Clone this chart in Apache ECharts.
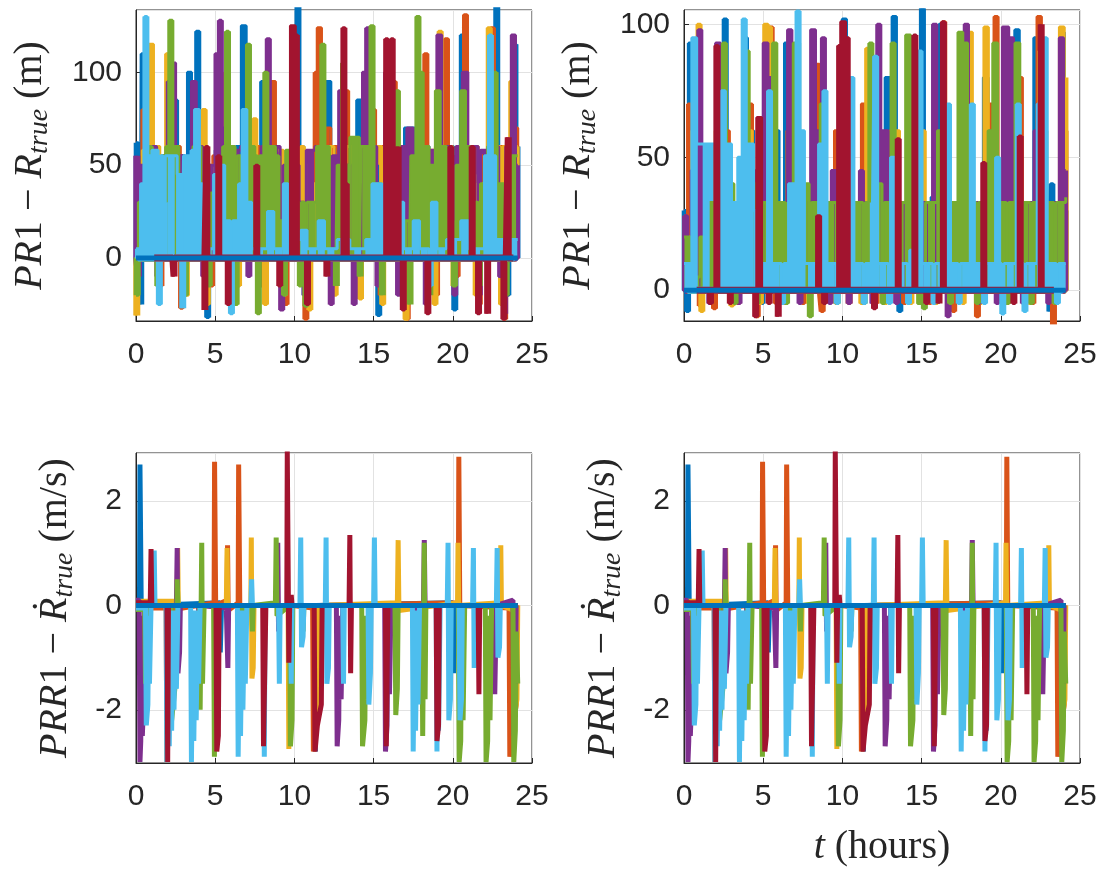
<!DOCTYPE html>
<html lang="en">
<head>
<meta charset="utf-8" />
<title>PR1 / PRR1 errors</title>
<script src="https://cdn.jsdelivr.net/npm/echarts@6/dist/echarts.min.js"></script>
<style>
  html, body { margin: 0; padding: 0; background: #fff; }
  #main { width: 1109px; height: 877px; }
</style>
</head>
<body>
<div id="main"></div>
<script type="text/javascript">
// MATLAB default line colours, drawn in this order
var colors = ['#0072BD', '#D95319', '#EDB120', '#7E2F8E', '#77AC30', '#4DBEEE', '#A2142F'];
var xTicks = [0, 25, 5];          // min, max, step (hours)
var yRangeTL = [-33.9, 133.5, 50];
var yRangeTR = [-11.6, 105.4, 50];
var yRangeB  = [-3.02, 2.92, 2];
var zeroLine = [[0, 0], [24.1, 0]];

// ---- top left: PR1 - R_true (m); [t, value], value held until the next t ----
var tlBlue = [[0,62],[0.15,40],[0.25,-25],[0.35,110],[0.55,60],[0.7,95],[0.85,5],[1.1,58],[1.4,20],[1.6,55],[2.4,85],[2.6,55],[3.1,20],[3.25,100],[3.5,60],[3.8,122],[4.0,50],[4.45,-32],[4.6,20],[5.0,58],[5.8,15],[6.3,60],[6.65,125],[6.95,60],[7.6,5],[7.9,95],[8.1,58],[8.6,40],[9.2,10],[9.6,55],[10.15,135],[10.3,60],[10.6,-20],[10.75,40],[11.5,55],[12.0,95],[12.3,60],[13.3,50],[13.8,-20],[13.95,85],[14.2,50],[15.25,-31],[15.4,40],[15.9,110],[16.1,40],[16.8,-10],[16.95,70],[17.6,50],[18.1,60],[18.5,-15],[18.65,40],[19.6,60],[20.05,-28],[20.2,20],[20.5,120],[20.7,30],[21.5,-10],[21.65,50],[22.3,90],[22.7,135],[22.85,40],[23.4,-20],[23.55,60],[23.85,115],[24.0,60],[24.1,60]];
var tlOrange = [[0,50],[0.4,80],[0.6,55],[0.85,100],[1.0,40],[1.5,-15],[1.65,30],[2.2,90],[2.4,60],[2.8,-27],[2.95,20],[3.6,58],[4.0,70],[4.3,30],[4.7,-15],[4.85,55],[5.5,85],[5.8,30],[6.2,-20],[6.35,45],[7.0,60],[7.8,-15],[7.95,60],[8.5,95],[8.8,40],[9.4,-25],[9.55,45],[10.4,55],[10.65,-33],[10.8,30],[11.3,100],[11.45,124],[11.7,70],[12.3,-15],[12.45,60],[13.2,90],[13.4,40],[14.0,-20],[14.15,60],[14.9,80],[15.1,40],[15.4,-20],[15.55,60],[16.2,95],[16.4,20],[17.05,-33],[17.2,40],[18.2,110],[18.4,30],[18.9,-20],[19.05,60],[19.5,118],[19.7,50],[20.2,-10],[20.35,55],[20.7,131],[20.9,60],[21.6,-25],[21.75,55],[22.4,124],[22.6,60],[23.2,-33],[23.35,10],[23.8,70],[24.1,30]];
var tlYellow = [[0,-31],[0.1,20],[0.4,58],[0.8,115],[1.1,60],[1.5,10],[1.9,110],[2.1,60],[2.6,30],[3.0,-20],[3.3,40],[3.8,60],[4.2,80],[4.4,-25],[4.6,50],[5.2,58],[5.6,100],[5.8,40],[6.4,-15],[6.55,40],[7.1,58],[7.4,75],[7.6,20],[8.1,-25],[8.25,58],[9.3,-20],[9.45,40],[10.4,60],[10.6,50],[10.9,-28],[11.05,40],[11.8,60],[12.5,-20],[12.65,45],[13.3,60],[14.1,-22],[14.25,60],[15.5,-25],[15.65,50],[16.5,60],[16.95,-33],[17.15,40],[17.8,58],[18.8,-25],[18.95,60],[19.1,122],[19.3,60],[20.0,-15],[20.15,45],[21.4,-20],[21.55,40],[22.2,124],[22.4,60],[23.0,-25],[23.15,60],[23.6,95],[23.9,60],[24.1,60]];
var tlPurple = [[0,55],[0.1,-10],[0.2,50],[0.5,30],[1.0,60],[1.3,-10],[1.45,40],[2.0,95],[2.2,105],[2.5,55],[2.95,-15],[3.1,50],[3.5,95],[3.8,60],[4.2,-10],[4.35,50],[5.0,110],[5.25,128],[5.4,70],[5.9,-20],[6.05,58],[6.6,60],[7.05,-10],[7.2,50],[7.9,60],[8.25,118],[8.45,60],[9.1,-28],[9.3,50],[10.3,30],[10.6,-20],[10.75,58],[11.3,60],[11.9,55],[12.25,-25],[12.4,55],[12.8,90],[13.1,50],[13.7,-25],[13.85,20],[14.3,100],[14.55,124],[14.7,60],[15.2,-15],[15.35,30],[15.7,100],[16.0,55],[16.5,-20],[16.65,60],[17.1,70],[17.5,40],[18.25,-25],[18.4,58],[19.0,120],[19.3,60],[19.8,55],[20.05,-20],[20.2,60],[20.6,100],[20.95,60],[21.6,-20],[21.75,58],[22.5,60],[22.9,-10],[23.2,-30],[23.35,60],[23.7,120],[23.95,50],[24.1,50]];
var tlGreen = [[0,-20],[0.15,30],[0.8,60],[1.0,5],[1.3,-15],[1.45,10],[1.65,55],[1.9,60],[2.1,128],[2.3,60],[2.7,30],[3.05,-20],[3.2,40],[3.6,60],[4.1,30],[4.55,-15],[4.7,35],[5.5,60],[5.7,122],[5.85,60],[6.25,-25],[6.4,55],[7.0,115],[7.2,60],[7.5,55],[7.65,-30],[7.8,55],[8.1,100],[8.3,60],[8.8,55],[9.0,20],[9.3,-20],[9.45,58],[9.8,30],[10.3,-15],[10.45,30],[10.65,-26],[10.8,30],[11.4,60],[11.7,115],[11.9,60],[12.2,5],[12.6,-15],[12.7,50],[13.0,105],[13.2,50],[13.5,65],[14.1,-10],[14.2,60],[14.8,125],[15.0,40],[15.5,-20],[15.6,10],[16.4,90],[16.6,20],[17.25,-25],[17.35,55],[17.7,130],[17.9,100],[18.1,60],[18.5,-20],[18.6,50],[18.9,90],[19.2,60],[19.6,20],[20.0,-15],[20.2,50],[20.5,90],[20.8,60],[21.1,30],[21.6,-15],[21.75,40],[22.2,60],[22.6,100],[22.75,40],[23.3,-20],[23.45,55],[24.1,55]];
var tlCyan = [[0,5],[0.3,40],[0.55,130],[0.7,55],[1.0,58],[1.4,-25],[1.55,55],[1.7,30],[1.85,55],[2.6,45],[2.9,-27],[3.0,55],[3.5,58],[3.7,80],[4.0,40],[4.2,5],[4.9,45],[5.2,50],[5.6,20],[5.95,-30],[6.1,20],[6.5,40],[6.7,80],[7.0,30],[7.3,5],[8.3,25],[8.7,5],[9.3,40],[9.6,10],[10.4,15],[10.8,5],[11.5,20],[11.9,5],[12.7,10],[13.5,5],[14.5,10],[14.9,40],[15.2,40],[15.5,5],[15.6,40],[16.0,20],[16.5,30],[16.9,5],[17.5,20],[17.9,5],[18.5,-15],[18.65,30],[19.0,5],[19.6,10],[20.5,20],[21.0,5],[22.0,55],[22.3,120],[22.45,55],[22.7,10],[23.2,5],[23.6,10],[24.1,10]];
var tlRed = [[0,0],[2.3,0],[2.35,-10],[2.45,0],[4.3,-28],[4.4,60],[4.55,0],[5.15,55],[5.3,0],[5.75,-25],[5.9,0],[7.55,50],[7.7,0],[9.0,-15],[9.15,0],[9.75,125],[10.05,120],[10.2,0],[10.75,-25],[10.9,0],[12.0,-10],[12.1,0],[13.05,124],[13.2,40],[13.35,0],[15.75,118],[15.9,0],[16.1,118],[16.25,0],[16.5,60],[16.6,0],[16.8,-28],[16.95,0],[18.35,-30],[18.5,0],[19.8,60],[19.95,0],[21.15,60],[21.3,0],[21.55,-30],[21.7,0],[22.15,-30],[22.25,0],[23.15,-33],[23.3,0],[23.45,65],[23.55,0],[24.1,0]];

// ---- top right: PR1 - R_true (m), second run ----
var trBlue = [[0,30],[0.15,-8],[0.3,93],[0.5,35],[1.0,10],[1.3,32],[1.7,5],[2.0,32],[2.5,102],[2.7,40],[3.05,-5],[3.2,33],[3.75,95],[4.0,60],[4.4,30],[4.85,-5],[5.0,33],[5.6,60],[6.0,10],[6.35,93],[6.6,40],[7.2,20],[7.5,33],[8.0,5],[8.4,70],[8.7,30],[9.2,5],[9.5,33],[10.0,102],[10.25,50],[10.7,10],[11.0,33],[11.5,60],[11.9,20],[12.2,33],[12.7,80],[13.15,103],[13.4,33],[13.55,-8],[13.7,33],[14.3,60],[14.7,80],[14.95,106],[15.15,20],[15.6,35],[15.9,-5],[16.0,50],[16.1,100],[16.35,30],[16.9,10],[17.2,33],[17.7,60],[18.1,10],[18.4,33],[18.9,80],[19.2,20],[19.5,33],[20.1,-5],[20.25,70],[20.9,98],[21.15,20],[21.6,33],[22.1,95],[22.35,20],[22.8,33],[23.05,-8],[23.15,40],[23.3,10],[23.75,97],[24.0,30],[24.1,30]];
var trOrange = [[0,28],[0.25,70],[0.45,33],[0.95,-6],[1.1,30],[1.85,-7],[2.0,33],[2.6,60],[2.85,30],[3.35,-5],[3.5,33],[4.1,70],[4.3,33],[4.55,-10],[4.7,33],[5.4,99],[5.6,40],[5.75,-5],[5.9,33],[6.5,60],[6.8,30],[7.45,-5],[7.6,33],[8.3,85],[8.55,33],[8.65,-8],[8.8,33],[9.5,60],[9.8,30],[10.35,-5],[10.5,33],[11.2,70],[11.5,30],[12.05,-5],[12.2,33],[13.0,60],[13.3,30],[13.85,-5],[14.0,33],[14.6,80],[14.9,30],[15.45,-5],[15.6,33],[16.3,101],[16.5,30],[16.95,-8],[17.1,33],[17.8,60],[18.1,33],[18.45,-10],[18.6,33],[19.3,70],[19.6,103],[19.8,30],[20.35,-5],[20.5,33],[21.1,80],[21.35,30],[21.95,-5],[22.1,33],[22.3,103],[22.55,30],[23.25,-13],[23.4,33],[24.0,60],[24.1,60]];
var trYellow = [[0,20],[0.5,60],[0.85,100],[1.05,-8],[1.2,33],[2.0,60],[2.2,92],[2.4,33],[2.95,-6],[3.1,33],[4.0,60],[4.3,33],[4.75,-5],[4.9,33],[5.05,100],[5.3,99],[5.5,33],[6.25,-5],[6.4,33],[7.0,60],[7.3,33],[7.85,-5],[8.0,33],[8.6,60],[8.8,33],[9.55,-5],[9.7,33],[10.3,60],[10.5,33],[11.15,-5],[11.3,33],[11.5,91],[11.7,60],[11.9,33],[12.65,-5],[12.8,33],[13.3,60],[13.6,33],[14.25,-5],[14.4,33],[15.0,60],[15.2,33],[15.85,-5],[16.0,33],[16.6,60],[16.8,33],[17.55,-5],[17.7,33],[17.9,97],[18.2,33],[18.65,-5],[18.8,33],[18.95,99],[19.2,60],[19.4,33],[20.15,-5],[20.3,33],[20.9,60],[21.1,33],[21.75,-5],[21.9,33],[22.4,90],[22.7,33],[23.35,-5],[23.5,33],[23.7,99],[24.0,80],[24.1,80]];
var trPurple = [[0,28],[0.2,15],[0.45,45],[0.9,98],[1.1,30],[1.55,-5],[1.7,33],[2.0,93],[2.3,90],[2.5,33],[3.4,-5],[3.55,33],[4.2,45],[4.5,30],[5.0,93],[5.3,80],[5.6,33],[6.15,-5],[6.3,33],[6.55,98],[6.8,60],[7.25,-5],[7.4,33],[8.0,98],[8.3,60],[8.7,95],[8.9,33],[9.15,-5],[9.3,45],[9.8,33],[10.35,-5],[10.5,33],[11.1,45],[11.3,33],[11.85,-5],[12.0,33],[12.2,100],[12.4,60],[12.9,33],[13.35,-5],[13.5,33],[14.1,95],[14.4,33],[14.95,-5],[15.1,33],[15.7,100],[15.95,40],[16.6,-10],[16.75,33],[17.4,50],[17.7,100],[17.95,33],[18.55,-5],[18.7,33],[19.3,60],[19.7,-5],[19.85,33],[20.1,99],[20.5,95],[20.8,33],[21.35,-5],[21.5,33],[22.1,60],[22.4,33],[22.95,-5],[23.1,33],[23.7,95],[23.95,45],[24.1,45]];
var trGreen = [[0,20],[0.5,5],[1.0,20],[1.5,33],[1.9,5],[2.2,55],[2.45,93],[2.65,40],[3.15,-5],[3.3,33],[3.85,90],[4.1,40],[4.55,-5],[4.7,20],[5.0,33],[5.6,93],[5.85,33],[6.4,-5],[6.55,33],[6.9,93],[7.3,40],[7.9,-10],[8.05,33],[8.6,70],[8.9,33],[9.6,-5],[9.75,33],[10.4,60],[10.7,33],[11.3,-5],[11.45,33],[11.7,93],[11.9,40],[12.5,-5],[12.65,33],[13.1,93],[13.3,33],[14.0,96],[14.3,40],[14.75,-5],[15.1,-7],[15.25,33],[16.0,60],[16.3,33],[16.75,-5],[16.9,33],[17.3,97],[17.6,93],[17.9,33],[18.45,-5],[18.6,33],[19.2,60],[19.5,93],[19.8,33],[20.35,-5],[20.5,33],[20.9,93],[21.2,33],[21.85,-5],[22.0,33],[22.6,60],[22.9,33],[23.35,-5],[23.5,33],[24.1,35]];
var trCyan = [[0,10],[0.5,95],[0.8,55],[2.0,50],[2.35,75],[2.6,55],[3.0,33],[3.4,50],[3.7,102],[3.9,55],[4.4,30],[4.8,10],[5.3,75],[5.5,10],[6.15,-5],[6.3,10],[6.6,40],[7.1,105],[7.3,60],[7.6,10],[8.5,55],[8.8,75],[9.0,10],[9.6,-5],[9.75,10],[10.5,80],[10.7,10],[11.3,-5],[11.45,10],[11.9,33],[12.0,88],[12.2,10],[12.9,-5],[13.05,50],[13.3,10],[14.1,-5],[14.25,15],[14.8,90],[15.0,10],[15.7,-5],[15.85,10],[16.6,70],[16.8,10],[17.3,-5],[17.45,10],[18.1,70],[18.3,10],[18.9,-5],[19.05,10],[19.7,50],[19.9,10],[20.05,-9],[20.2,10],[21.0,70],[21.2,10],[21.45,-8],[21.6,10],[22.3,70],[22.7,95],[22.9,10],[23.5,-5],[23.65,10],[24.1,10]];
var trRed = [[0,0],[1.6,-5],[1.75,0],[2.0,92],[2.15,0],[2.85,-5],[3.0,0],[4.45,-10],[4.6,65],[4.9,0],[5.3,-5],[5.45,0],[5.9,-10],[6.0,0],[8.4,28],[8.6,0],[8.8,-5],[8.95,0],[9.75,92],[9.9,101],[10.2,95],[10.4,0],[11.95,-7],[12.1,0],[13.45,57],[13.6,0],[14.5,96],[14.65,0],[15.25,-5],[15.4,0],[16.05,-5],[16.15,0],[16.3,101],[16.45,0],[18.85,48],[19.0,0],[20.75,-5],[20.9,0],[21.15,58],[21.3,0],[22.5,100],[22.6,0],[24.1,0]];

// ---- bottom row: PRR1 - Rdot_true (m/s); both bottom panels show the same curves ----
var bBlue = [[0,0.05],[0.22,0.05],[0.25,2.7],[0.3,2.7],[0.33,0],[0.6,-0.05],[0.62,-2.2],[0.7,-1.6],[0.75,0],[5.3,0.05],[5.32,-0.9],[5.4,0],[11.3,0],[11.32,-2.8],[11.36,0],[20.0,0.05],[20.05,-1.3],[20.1,0],[24.1,0]];
var bOrange = [[0,-0.05],[1.9,-0.05],[1.95,-3.0],[2.0,-0.1],[4.93,0.05],[4.96,2.75],[5.0,2.75],[5.03,0],[5.75,0.1],[5.78,1.15],[5.82,-0.1],[6.45,0.05],[6.48,2.7],[6.53,2.7],[6.56,-0.3],[6.6,0],[9.7,0],[9.75,-1.5],[9.8,0],[11.15,-0.05],[11.2,-2.8],[11.35,-2.3],[11.5,-1.7],[11.55,0],[20.35,0.05],[20.38,2.85],[20.43,2.85],[20.46,-1.0],[20.5,0],[23.55,-0.05],[23.6,-2.9],[23.8,-2.4],[24.0,-1.9],[24.05,0]];
var bYellow = [[0,0.08],[2.6,0.08],[2.63,1.1],[2.67,0],[5.7,0],[5.75,1.1],[5.8,-0.3],[5.85,0],[7.25,0],[7.28,1.3],[7.32,-1.4],[7.4,-1.2],[7.45,0],[9.6,0],[9.65,-2.75],[9.7,0],[11.4,0],[11.45,-2.2],[11.6,-1.9],[11.65,0],[16.5,0.05],[16.55,1.25],[16.6,-0.1],[20.3,0.05],[20.33,1.2],[20.37,0],[23.0,0.05],[23.03,1.15],[23.07,0],[23.9,-0.1],[23.95,-2.0],[24.05,-1.8],[24.1,0]];
var bPurple = [[0,0.1],[0.2,0.1],[0.25,-3.0],[0.3,-2.6],[0.35,-0.2],[0.4,-2.5],[0.5,-1.7],[0.55,0],[2.55,0],[2.6,1.1],[2.65,-1.3],[2.75,-0.9],[2.8,0],[3.95,0],[4.0,-1.3],[4.05,0],[5.7,-0.05],[5.8,-1.2],[5.85,0],[8.9,0],[8.95,1.2],[9.0,-0.5],[9.05,0],[12.65,0],[12.7,-2.7],[12.8,-2.2],[12.85,-0.2],[12.95,-1.8],[13.05,0],[15.7,0],[15.75,-2.8],[15.85,-2.3],[15.9,-0.2],[16.0,-1.7],[16.1,0],[17.55,0],[17.6,-1.9],[17.7,-1.5],[17.75,0],[18.15,0],[18.2,1.25],[18.25,0],[20.55,0],[20.6,-1.4],[20.7,0],[22.6,0],[22.65,-1.7],[22.75,0],[23.8,0.1],[23.85,-2.5],[23.95,-1.7],[24.0,0]];
var bGreen = [[0,-0.08],[0.55,-0.08],[0.6,-1.5],[0.75,-1.3],[0.8,0],[2.2,0],[2.25,-2.2],[2.45,-1.6],[2.55,-1.2],[2.6,0.5],[2.65,0],[4.0,0],[4.05,-2.0],[4.15,1.2],[4.2,-1.5],[4.3,0],[4.9,0],[4.95,-2.9],[5.0,0],[6.55,0],[6.6,-2.0],[6.7,-1.6],[6.75,0],[7.3,0],[7.35,-0.5],[7.4,0],[8.8,0.05],[8.85,1.3],[8.9,-0.2],[9.7,0],[9.75,-2.7],[9.85,-2.2],[9.9,0],[10.5,0],[10.55,-0.5],[10.6,0],[14.25,0],[14.3,-2.7],[14.45,-2.2],[14.5,-0.2],[14.6,-1.8],[14.7,0],[16.35,0],[16.4,-2.1],[16.5,-1.6],[16.55,0],[18.05,0],[18.1,-2.5],[18.2,1.2],[18.25,-1.8],[18.3,0],[20.35,0],[20.4,-3.0],[20.5,-2.6],[20.55,-0.2],[20.65,-2.2],[20.75,0],[22.05,0],[22.1,-3.0],[22.2,-2.6],[22.25,-0.2],[22.35,-2.2],[22.45,0],[23.8,0],[23.85,-3.0],[23.95,-2.4],[24.0,-0.5],[24.1,-1.5]];
var bCyan = [[0,-0.05],[0.6,-0.05],[0.65,-2.3],[0.75,-1.9],[0.8,-0.2],[0.85,-1.5],[0.95,0],[1.1,0],[1.15,1.05],[1.2,0],[1.9,0],[1.95,-3.0],[2.05,-0.1],[2.1,-2.7],[2.2,-0.1],[2.25,-2.4],[2.35,-0.1],[2.4,-2.0],[2.5,-0.1],[2.55,-1.6],[2.65,0],[3.45,0],[3.5,-3.0],[3.6,-0.1],[3.65,-2.6],[3.75,-0.1],[3.8,-2.2],[3.9,-0.1],[3.95,-1.5],[4.05,0],[6.4,0],[6.45,-2.9],[6.55,-0.1],[6.6,-2.5],[6.7,-0.1],[6.75,-2.0],[6.85,-0.1],[6.9,-1.5],[7.0,0],[7.25,0],[7.3,0.5],[7.35,0],[8.05,0],[8.1,-2.9],[8.15,0],[9.0,0],[9.05,-1.5],[9.1,0],[9.75,0],[9.8,-1.5],[9.85,0],[10.35,0],[10.4,1.3],[10.45,-0.8],[10.55,-0.6],[10.6,0],[11.95,0],[12.0,1.3],[12.05,-1.5],[12.15,-1.2],[12.2,0],[13.05,0],[13.1,-1.5],[13.15,0],[14.65,0],[14.7,-1.9],[14.8,-1.3],[14.85,0],[15.0,0],[15.05,1.3],[15.1,0],[17.45,0],[17.5,-2.8],[17.6,-0.1],[17.65,-2.4],[17.75,-0.1],[17.8,-1.9],[17.9,0],[18.95,0],[19.0,-2.8],[19.05,-0.1],[19.1,-2.4],[19.2,0],[19.65,0],[19.7,1.2],[19.75,-2.2],[19.85,-1.8],[19.9,0],[20.4,0],[20.45,-2.2],[20.55,-1.8],[20.6,0],[21.25,0],[21.3,1.1],[21.35,-1.2],[21.45,0],[22.75,0],[22.8,1.1],[22.85,-1.0],[22.95,-0.8],[23.0,0],[24.1,0]];
var bRed = [[0,0.05],[0.9,0.05],[0.95,1.08],[1.0,0],[1.95,0],[2.0,-3.0],[2.05,0],[5.05,0],[5.1,-2.8],[5.2,-2.5],[5.25,0],[8.0,0],[8.05,-2.7],[8.15,-2.7],[8.2,0],[9.52,0],[9.55,2.95],[9.62,2.95],[9.65,-1.1],[9.7,0],[9.8,0.2],[9.85,0],[11.25,0],[11.3,-2.8],[11.45,-2.3],[11.7,-1.9],[11.75,0],[13.45,0],[13.5,1.35],[13.55,-1.3],[13.6,0],[15.75,0],[15.8,-2.7],[15.9,0],[18.95,0],[19.0,-2.6],[19.1,-2.3],[19.15,0],[21.6,0],[21.65,-1.7],[21.7,0],[24.1,0]];

var panels = [
  { grid: { left: 136, top: 10, width: 396, height: 311 }, y: yRangeTL, gap: 82, blocks: true,
    title: '{i|PR}{r|1 − }{i|R}{s|true}{r| (m)}',
    lines: [tlBlue, tlOrange, tlYellow, tlPurple, tlGreen, tlCyan, tlRed] },
  { grid: { left: 684, top: 10, width: 396, height: 311 }, y: yRangeTR, gap: 82, blocks: true,
    title: '{i|PR}{r|1 − }{i|R}{s|true}{r| (m)}',
    lines: [trBlue, trOrange, trYellow, trPurple, trGreen, trCyan, trRed] },
  { grid: { left: 136, top: 453, width: 396, height: 310 }, y: yRangeB, gap: 57, blocks: false,
    title: '{i|PRR}{r|1 − }{i|Ṙ}{s|true}{r| (m/s)}',
    lines: [bBlue, bOrange, bYellow, bPurple, bGreen, bCyan, bRed] },
  { grid: { left: 684, top: 453, width: 396, height: 310 }, y: yRangeB, gap: 57, blocks: false,
    title: '{i|PRR}{r|1 − }{i|Ṙ}{s|true}{r| (m/s)}',
    lines: [bBlue, bOrange, bYellow, bPurple, bGreen, bCyan, bRed] }
];

var ink = '#262626';
var mathRich = {
  i: { fontFamily: 'Liberation Serif', fontStyle: 'italic', fontSize: 40, lineHeight: 48, color: ink },
  r: { fontFamily: 'Liberation Serif', fontSize: 40, lineHeight: 48, color: ink },
  s: { fontFamily: 'Liberation Serif', fontStyle: 'italic', fontSize: 28, lineHeight: 26, verticalAlign: 'bottom', color: ink }
};
var tickFont = { fontFamily: 'Liberation Sans', fontSize: 30, color: ink };

// each held value is also drawn as a thick stroke from zero up to it,
// in the middle of the interval it is held for, so the columns read solid
function toStrokes(d) {
  var out = [];
  for (var i = 0; i < d.length - 1; i++) {
    var tc = (d[i][0] + d[i + 1][0]) / 2;
    out.push([tc, 0], [tc, d[i][1]], [tc, 0]);
  }
  return out;
}

var grids = [], xAxes = [], yAxes = [], series = [];
panels.forEach(function (p, g) {
  // box round each panel comes from the grid border
  grids.push(Object.assign({ show: true, borderColor: ink, borderWidth: 1, backgroundColor: 'transparent' }, p.grid));
  var yStep = p.y[2];
  var frame = { show: true, onZero: false, lineStyle: { color: ink, width: 1 } };
  var tick = { show: true, inside: true, length: 5, lineStyle: { color: ink, width: 1 } };
  var grey = { show: true, lineStyle: { color: '#e2e2e2', width: 1 } };
  xAxes.push({
    gridIndex: g, type: 'value', position: 'bottom', min: xTicks[0], max: xTicks[1], interval: xTicks[2],
    axisLine: frame, axisTick: tick, splitLine: grey,
    axisLabel: Object.assign({ margin: 19 }, tickFont),
    name: g === 3 ? '{i|t}{r| (hours)}' : '', nameLocation: 'middle', nameGap: 60,
    nameTextStyle: { rich: mathRich }
  });
  yAxes.push({
    gridIndex: g, type: 'value', position: 'left', min: p.y[0], max: p.y[1],
    minInterval: yStep, maxInterval: yStep, splitNumber: 3,
    axisLine: frame, axisTick: tick, splitLine: grey,
    axisLabel: Object.assign({
      margin: 14, showMinLabel: false, showMaxLabel: false,
      formatter: function (v) { return Math.abs(v / yStep - Math.round(v / yStep)) < 1e-6 ? String(Math.round(v)) : ''; }
    }, tickFont),
    name: p.title, nameLocation: 'middle', nameRotate: 90, nameGap: p.gap,
    nameTextStyle: { rich: mathRich }
  });
  p.lines.forEach(function (d, k) {
    var s = {
      type: 'line', data: d, xAxisIndex: g, yAxisIndex: g,
      symbol: 'none', color: colors[k],
      lineStyle: { width: p.blocks ? 3 : 5 }
    };
    if (p.blocks) {
      s.step = 'end';
      s.areaStyle = { opacity: 1 };
    }
    series.push(s);
    if (p.blocks) {
      series.push({
        type: 'line', data: toStrokes(d), xAxisIndex: g, yAxisIndex: g,
        symbol: 'none', color: colors[k],
        lineStyle: { width: 7, join: 'bevel', cap: 'butt' }
      });
    }
  });
  // thick reference line at zero, drawn last
  series.push({
    type: 'line', data: zeroLine, xAxisIndex: g, yAxisIndex: g,
    symbol: 'none', color: colors[0],
    lineStyle: { width: 5 }
  });
});

var chart = echarts.init(document.getElementById('main'), null, { renderer: 'canvas' });
chart.setOption({
  animation: false,
  backgroundColor: '#ffffff',
  grid: grids,
  xAxis: xAxes,
  yAxis: yAxes,
  series: series
});
</script>
</body>
</html>
